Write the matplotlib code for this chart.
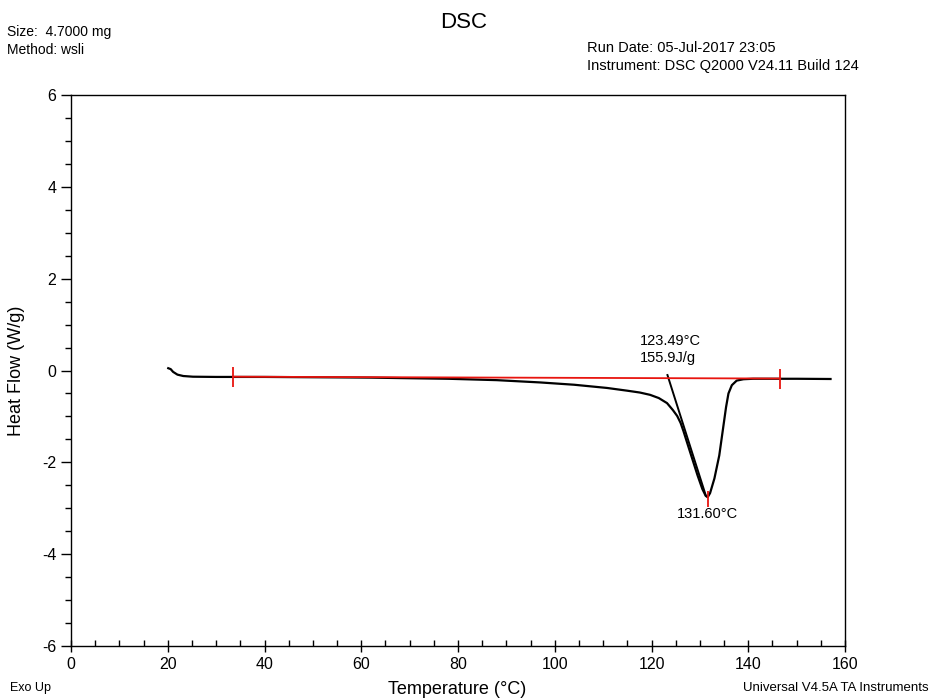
import numpy as np
import matplotlib.pyplot as plt
from matplotlib.ticker import MultipleLocator

plt.rcParams['font.family'] = ['Liberation Sans', 'DejaVu Sans']
plt.rcParams['axes.unicode_minus'] = False

# heat flow curve (W/g) against temperature (°C)
temperature = [20.1, 20.6, 21.1, 22.0, 23.2, 25.2, 30.0, 33.5, 40.0, 47.0, 55.0, 62.0,
               68.0, 78.0, 88.0, 97.0, 104.0, 110.8, 115.0, 117.6, 119.7, 121.5, 123.2,
               124.4, 125.3, 126.0, 126.6, 127.5, 128.5, 129.5, 130.5, 131.2, 131.6,
               132.1, 133.0, 134.0, 134.8, 135.4, 135.9, 136.6, 137.6, 139.0, 141.0,
               145.0, 150.0, 157.0]
heat_flow = [0.05, 0.03, -0.03, -0.09, -0.12, -0.135, -0.14, -0.14, -0.14, -0.145, -0.15,
             -0.155, -0.165, -0.18, -0.21, -0.26, -0.31, -0.38, -0.44, -0.48, -0.53, -0.60,
             -0.71, -0.86, -0.99, -1.14, -1.32, -1.62, -1.95, -2.28, -2.58, -2.73, -2.76,
             -2.67, -2.35, -1.85, -1.25, -0.80, -0.50, -0.32, -0.22, -0.19, -0.18, -0.18,
             -0.18, -0.185]

# integration limits and baseline
base_x = [33.5, 146.6]
base_y = [-0.135, -0.175]

# onset tangent
onset_t = 123.49
onset_y = -0.165
tangent_slope = -0.331
tangent_end = 131.2

peak_t = 131.60
peak_y = -2.76
enthalpy = 155.9

fig = plt.figure(figsize=(9.32, 6.99), dpi=100)
ax = fig.add_axes([0.0762, 0.0758, 0.8305, 0.7883])

ax.plot(temperature, heat_flow, color='black', lw=1.6, zorder=3)
ax.plot(base_x, base_y, color='#e8150f', lw=1.3, zorder=4)
ax.plot(base_x, base_y, ls='none', marker='|', ms=14, mew=1.3, color='#e8150f', zorder=4)

tx = np.array([onset_t - 0.2, tangent_end])
ax.plot(tx, onset_y + tangent_slope * (tx - onset_t), color='black', lw=1.4, zorder=3)
ax.plot([peak_t], [peak_y - 0.03], marker='|', ms=11, mew=1.3, color='#e8150f', zorder=5)

ax.text(onset_t - 5.8, 0.12, '{:.2f}°C\n{:.1f}J/g'.format(onset_t, enthalpy),
        fontsize=10.5, va='bottom', ha='left', linespacing=1.25)
ax.text(peak_t, peak_y - 0.22, '{:.2f}°C'.format(peak_t), fontsize=10.5,
        va='top', ha='center')

ax.set_xlim(0, 160)
ax.set_ylim(-6, 6)
ax.xaxis.set_major_locator(MultipleLocator(20))
ax.xaxis.set_minor_locator(MultipleLocator(5))
ax.yaxis.set_major_locator(MultipleLocator(2))
ax.yaxis.set_minor_locator(MultipleLocator(0.5))
ax.tick_params(axis='x', which='major', direction='inout', length=9, width=1, labelsize=11.5)
ax.tick_params(axis='x', which='minor', direction='in', length=4, width=1)
ax.tick_params(axis='y', which='major', direction='out', length=7, width=1, labelsize=11.5)
ax.tick_params(axis='y', which='minor', direction='out', length=4, width=1)
for s in ax.spines.values():
    s.set_linewidth(1.0)

ax.set_ylabel('Heat Flow (W/g)', fontsize=13)
ax.yaxis.set_label_coords(-0.059, 0.5)
fig.text(0.490, 0.014, 'Temperature (°C)', fontsize=13, ha='center', va='center')
fig.text(0.011, 0.016, 'Exo Up', fontsize=9, ha='left', va='center')
fig.text(0.996, 0.016, 'Universal V4.5A TA Instruments', fontsize=9.5, ha='right', va='center')

fig.text(0.497, 0.968, 'DSC', fontsize=16, ha='center', va='center')
fig.text(0.008, 0.954, 'Size:  4.7000 mg', fontsize=10, ha='left', va='center')
fig.text(0.008, 0.929, 'Method: wsli', fontsize=10, ha='left', va='center')
fig.text(0.630, 0.932, 'Run Date: 05-Jul-2017 23:05', fontsize=10.5, ha='left', va='center')
fig.text(0.630, 0.905, 'Instrument: DSC Q2000 V24.11 Build 124', fontsize=10.5, ha='left', va='center')

plt.savefig('out.png', dpi=100)
